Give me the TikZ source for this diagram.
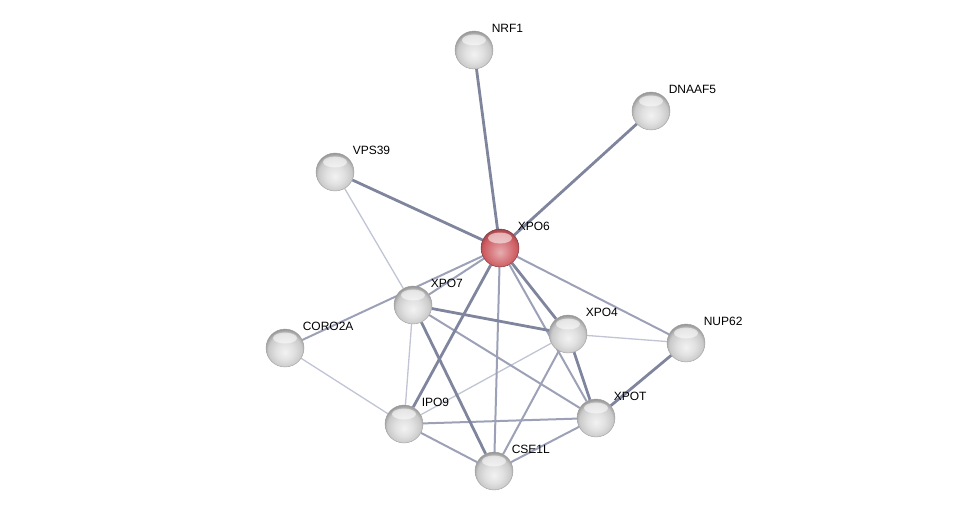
\documentclass[tikz,border=0pt]{standalone}
\usepackage{fontspec}
\setmainfont{Liberation Sans}
\usetikzlibrary{backgrounds}

\definecolor{edgeLight}{RGB}{192,196,212}
\definecolor{edgeMid}{RGB}{156,161,184}
\definecolor{edgeDark}{RGB}{128,133,158}
\definecolor{hubRed}{RGB}{206,92,98}

\pgfdeclareradialshading{greysphere}{\pgfpoint{0bp}{-6bp}}{%
  color(0bp)=(white!90!gray); color(12bp)=(white!76!gray);
  color(22bp)=(white!58!gray); color(28bp)=(gray!85); color(31bp)=(gray!100);
  color(50bp)=(gray)}
\pgfdeclareradialshading{redsphere}{\pgfpoint{0bp}{-6bp}}{%
  color(0bp)=(hubRed!50!white); color(12bp)=(hubRed!78!white);
  color(22bp)=(hubRed); color(28bp)=(hubRed!75!black); color(31bp)=(hubRed!60!black);
  color(50bp)=(hubRed!60!black)}

\begin{document}
\begin{tikzpicture}[
  x=1pt, y=-1pt,
  protein/.style={
    circle, minimum size=38pt, inner sep=0pt,
    shading=greysphere, draw=gray!75, line width=0.4pt,
    path picture={\fill[white, opacity=0.55]
      ([yshift=10pt]path picture bounding box.center) ellipse (12pt and 5.5pt);},
    label={[name=#1-lbl, anchor=south west, inner sep=2pt,
            font=\fontsize{12}{14}\selectfont, xshift=2pt, yshift=2pt]45:#1},
  },
  hub/.style={protein=#1, shading=redsphere, draw=hubRed!55!black},
  thin/.style={edgeLight, line width=1.3pt},
  mid/.style={edgeMid, line width=2pt},
  thick/.style={edgeDark, line width=2.8pt},
]
\useasboundingbox (0,0) rectangle (975,516);

\node[hub=XPO6]       (XPO6)   at (500,248) {};
\node[protein=NRF1]   (NRF1)   at (474,50)  {};
\node[protein=DNAAF5] (DNAAF5) at (651,111) {};
\node[protein=VPS39]  (VPS39)  at (335,172) {};
\node[protein=XPO7]   (XPO7)   at (413,305) {};
\node[protein=CORO2A] (CORO2A) at (285,348) {};
\node[protein=XPO4]   (XPO4)   at (568,334) {};
\node[protein=NUP62]  (NUP62)  at (686,343) {};
\node[protein=IPO9]   (IPO9)   at (404,424) {};
\node[protein=XPOT]   (XPOT)   at (596,418) {};
\node[protein=CSE1L]  (CSE1L)  at (494,471) {};

% edges go behind the balls
\begin{scope}[on background layer]
  \foreach \a/\b in {VPS39/XPO7, XPO7/IPO9, CORO2A/IPO9, XPO4/NUP62, XPO4/IPO9}
    \draw[thin] (\a) -- (\b);
  \foreach \a/\b in {XPO6/XPO7, XPO6/CORO2A, XPO6/CSE1L, XPO6/XPOT, XPO6/NUP62,
                     XPO7/XPOT, XPO4/CSE1L, IPO9/XPOT, IPO9/CSE1L, CSE1L/XPOT}
    \draw[mid] (\a) -- (\b);
  \foreach \a/\b in {XPO6/NRF1, XPO6/DNAAF5, XPO6/VPS39, XPO6/IPO9, XPO6/XPO4,
                     XPO7/XPO4, XPO7/CSE1L, XPO4/XPOT, NUP62/XPOT}
    \draw[thick] (\a) -- (\b);
\end{scope}
\end{tikzpicture}
\end{document}
